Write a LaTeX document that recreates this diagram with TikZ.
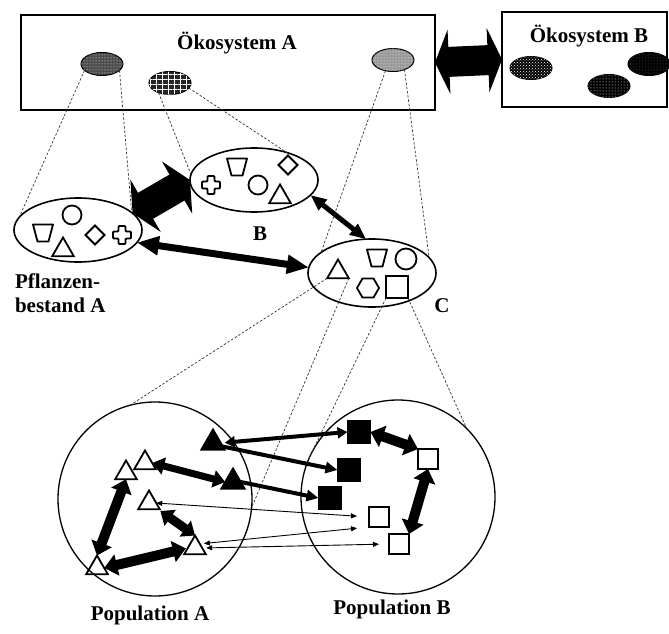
\documentclass[tikz,border=0pt]{standalone}
\usepackage{fontspec}
\setmainfont{Liberation Serif}
\usetikzlibrary{shapes.geometric,arrows.meta,patterns,patterns.meta}

\tikzset{
  plus/.pic={\draw[line width=1.8pt,rounded corners=1pt] (-3.5,-9) -- (3.5,-9) -- (3.5,-3.5) -- (9,-3.5) -- (9,3.5) -- (3.5,3.5) -- (3.5,9) -- (-3.5,9) -- (-3.5,3.5) -- (-9,3.5) -- (-9,-3.5) -- (-3.5,-3.5) -- cycle;},
  funnel/.pic={\draw[line width=1.8pt,line join=round] (-10,-8.5) -- (10,-8.5) -- (5.5,8.5) -- (-5.5,8.5) -- cycle;}
}

\begin{document}
\begin{tikzpicture}[x=1pt,y=-1pt,
  every node/.style={inner sep=0pt,outer sep=0pt},
  lbl/.style={font=\bfseries\fontsize{21}{24}\selectfont},
  ecobox/.style={draw,line width=1.5pt,minimum height=95pt},
  patch/.style={ellipse,draw=black,line width=1pt,minimum width=42pt,minimum height=23pt},
  stand/.style={ellipse,draw,line width=1.6pt,minimum width=128pt,minimum height=64pt},
  pop/.style={circle,draw,line width=1.3pt,minimum size=194pt},
  zoomline/.style={dash pattern=on 2.5pt off 1.8pt,line width=0.7pt,black!80},
  sym/.style={draw,line width=1.8pt},
  tri/.style={sym,regular polygon,regular polygon sides=3,minimum size=25pt},
  ftri/.style={tri,fill=black,minimum size=27pt},
  hexa/.style={sym,regular polygon,regular polygon sides=6,minimum size=22pt},
  sqr/.style={sym,rectangle,minimum size=20pt},
  fsqr/.style={sqr,fill=black,minimum size=23pt},
  rnd/.style={sym,circle,minimum size=19pt},
  rhomb/.style={sym,diamond,minimum size=19pt},
  dbl/.style n args={3}{line width=#1,{Triangle[length=#2,width=#3]}-{Triangle[length=#2,width=#3]}},
  sgl/.style n args={3}{line width=#1,-{Triangle[length=#2,width=#3]}}]
\useasboundingbox (0,0) rectangle (669,634);

% Oekosysteme
\node[ecobox,minimum width=414pt] (ecoA) at (228,62.5) {};
\node[ecobox,minimum width=165pt] (ecoB) at (584.5,59.5) {};
\node[lbl,anchor=base] (ecoAtxt) at (237,50) {Ökosystem A};
\node[lbl,anchor=base] (ecoBtxt) at (589,43) {Ökosystem B};
\node[patch,fill=black!70,postaction={pattern=dots,pattern color=white}] (pA1) at (102,64) {};
\node[patch,fill=black!85,
  postaction={pattern={Lines[distance=5pt,line width=0.9pt]},pattern color=white},
  postaction={pattern={Lines[angle=90,distance=6pt,line width=0.9pt]},pattern color=white}] (pA2) at (170,83) {};
\node[patch,fill=black!40,postaction={pattern=dots,pattern color=white}] (pA3) at (393,60) {};
\node[patch,fill=black,postaction={pattern=crosshatch dots,pattern color=white}] (pB1) at (531,68) {};
\node[patch,fill=black,postaction={pattern=dots,pattern color=white}] (pB2) at (609,86) {};
\node[patch,fill=black,postaction={pattern=dots,pattern color=black!60}] (pB3) at (649,64) {};
\draw[dbl={30pt}{14pt}{64pt}] (ecoA.east) -- (ecoB.west);

% Pflanzenbestaende
\node[stand] (stA) at (78,230) {};
\node[stand] (stB) at (254,180) {};
\node[stand,minimum height=68pt] (stC) at (372,273) {};
\node[lbl,anchor=base] (labB) at (260,240) {B};
\node[lbl,anchor=base] (labC) at (442,312) {C};
\node[lbl,anchor=base west] (labA1) at (15,288) {Pflanzen-};
\node[lbl,anchor=base west] (labA2) at (15,312) {bestand A};

\node[rnd] (aRnd) at (72,215) {};
\pic at (43,233) {funnel};
\node[tri] (aTri) at (63,250) {};
\node[rhomb] (aRhomb) at (95,235) {};
\pic at (122,235) {plus};

\pic at (211,185) {plus};
\pic at (237,167) {funnel};
\node[rnd] (bRnd) at (258,185) {};
\node[rhomb] (bRhomb) at (288,165) {};
\node[tri] (bTri) at (280,197) {};

\node[tri] (cTri) at (338,272) {};
\pic at (377,258) {funnel};
\node[rnd,minimum size=21pt] (cRnd) at (406,259) {};
\node[hexa] (cHexa) at (368,288) {};
\node[sqr,minimum size=22pt] (cSqr) at (397,287) {};

\draw[dbl={30pt}{15pt}{60pt}] (stA.17) -- (stB.180);
\draw[dbl={7pt}{22pt}{18pt}] (stA.-12) -- (stC.175);
\draw[dbl={5pt}{16pt}{13pt}] (stB.-15) -- (stC.100);

\draw[zoomline] (pA1.200) -- (stA.168);
\draw[zoomline] (pA1.-20) -- (stA.18);
\draw[zoomline] (pA2.220) -- (stB.175);
\draw[zoomline] (pA2.-15) -- (stB.40);
\draw[zoomline] (pA3.235) -- (stC.158);
\draw[zoomline] (pA3.-40) -- (stC.15);

% Populationen
\node[pop] (popA) at (155,499) {};
\node[pop] (popB) at (398,497) {};
\node[lbl,anchor=base] (labPA) at (150,620) {Population A};
\node[lbl,anchor=base] (labPB) at (392,614) {Population B};

\draw[zoomline] (cTri.corner 2) -- (popA.105);
\draw[zoomline] (cTri.corner 3) -- (popA.-5);
\draw[zoomline] (cSqr.south west) -- (popB.157);
\draw[zoomline] (cSqr.south east) -- (popB.45);

\node[ftri] (fA1) at (213,443) {};
\node[ftri] (fA2) at (233,482) {};
\node[tri] (tA1) at (126,473) {};
\node[tri] (tA2) at (145,463) {};
\node[tri] (tA3) at (149,503) {};
\node[tri] (tA4) at (195,548) {};
\node[tri] (tA5) at (97,568) {};

\node[fsqr] (fB1) at (359,432) {};
\node[fsqr] (fB2) at (349,470) {};
\node[fsqr] (fB3) at (330,498) {};
\node[sqr] (oB1) at (428,459) {};
\node[sqr] (oB2) at (379,517) {};
\node[sqr] (oB3) at (399,544) {};

\draw[dbl={7pt}{12pt}{17pt}] (tA2.east) -- (fA2.west);
\draw[dbl={10pt}{13pt}{21pt}] (tA1.south) -- (tA5.north);
\draw[dbl={10pt}{13pt}{21pt},shorten >=2pt] (tA5.east) -- (tA4.west);
\draw[dbl={9pt}{12pt}{19pt},shorten <=3pt] (tA3.-35) -- (tA4.north);
\draw[dbl={10pt}{13pt}{22pt}] (fB1.east) -- (oB1.north west);
\draw[dbl={10pt}{13pt}{22pt}] (oB1.south) -- (oB3.north east);

\draw[dbl={4pt}{10pt}{11pt},shorten <=4pt] (fA1.east) -- (fB1.west);
\draw[sgl={4pt}{12pt}{11pt}] (fA1.-20) -- (fB2.west);
\draw[sgl={4pt}{12pt}{11pt}] (fA2.east) -- (fB3.west);
\draw[dbl={0.9pt}{6pt}{5pt},shorten >=12pt] (tA3.east) -- (oB2.west);
\draw[dbl={0.9pt}{6pt}{5pt},shorten <=4pt,shorten >=12pt] (tA4.40) -- (oB2.south west);
\draw[dbl={0.9pt}{6pt}{5pt},shorten <=4pt,shorten >=10pt] (tA4.east) -- (oB3.west);
\end{tikzpicture}
\end{document}
